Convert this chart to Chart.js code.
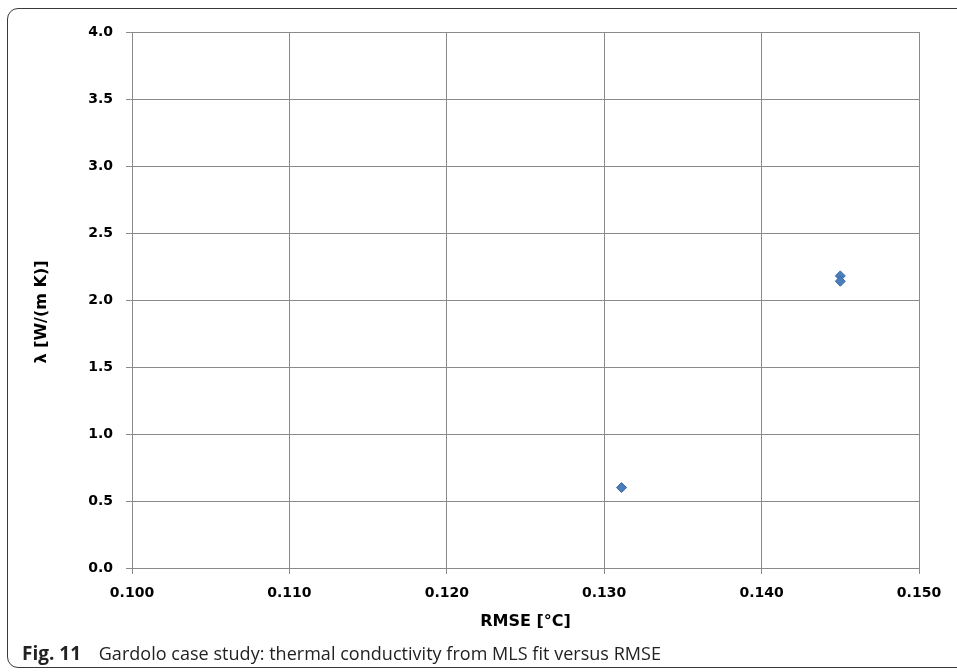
<!DOCTYPE html>
<html>
<head>
<meta charset="utf-8">
<script src="https://cdn.jsdelivr.net/npm/chart.js@4"></script>
<style>
  html, body { margin: 0; padding: 0; background: #fff; }
  body { width: 957px; height: 672px; position: relative; overflow: hidden; }
  #frame {
    position: absolute; left: 7px; top: 8px; width: 990px; height: 660px;
    border: 1.3px solid #3a3a3a; border-radius: 11px; box-sizing: border-box;
  }
  #wrap { position: absolute; left: 0; top: 0; width: 957px; height: 672px; }
  #caption {
    position: absolute; left: 22px; top: 644px; white-space: nowrap; line-height: 18px;
    font-family: "Open Sans", "Noto Sans", sans-serif; font-size: 18px; color: #222;
    letter-spacing: 0.03px;
  }
  #caption b { font-weight: 700; font-size: 19px; margin-right: 13px; letter-spacing: 0; }
</style>
</head>
<body>
<div id="frame"></div>
<div id="wrap"><canvas id="chart" width="957" height="672"></canvas></div>
<div id="caption"><b>Fig. 11</b> Gardolo case study: thermal conductivity from MLS fit versus RMSE</div>
<script>
// RMSE of each MLS fit and the thermal conductivity it returned
const rmse = [0.1311, 0.1450, 0.1450];
const lambda = [0.60, 2.18, 2.14];

// Axis ticks
const xTicks = [0.100, 0.110, 0.120, 0.130, 0.140, 0.150];
const xTickLabels = ['0.100', '0.110', '0.120', '0.130', '0.140', '0.150'];
const yTicks = [0.0, 0.5, 1.0, 1.5, 2.0, 2.5, 3.0, 3.5, 4.0];
const yTickLabels = ['0.0', '0.5', '1.0', '1.5', '2.0', '2.5', '3.0', '3.5', '4.0'];
const yTitle = 'λ [W/(m K)]';

const gridColor = '#8a8a8a';
const tickFont = { family: 'DejaVu Sans', weight: 'bold', size: 14 };
const titleFont = { family: 'DejaVu Sans', weight: 'bold', size: 16 };

// Vertical axis title, drawn a little below the plot's mid-height
const yTitlePlugin = {
  id: 'yTitle',
  afterDraw(chart) {
    const { ctx, chartArea } = chart;
    const y = chart.scales.y;
    ctx.save();
    ctx.font = `bold ${titleFont.size}px "${titleFont.family}"`;
    ctx.fillStyle = '#000';
    ctx.textAlign = 'center';
    ctx.textBaseline = 'middle';
    ctx.translate(y.left + 42, (chartArea.top + chartArea.bottom) / 2 + 12);
    ctx.rotate(-Math.PI / 2);
    ctx.fillText(yTitle, 0, 0);
    ctx.restore();
  }
};

new Chart(document.getElementById('chart'), {
  type: 'scatter',
  data: {
    datasets: [{
      data: rmse.map((x, i) => ({ x: x, y: lambda[i] })),
      pointStyle: 'rectRot',
      pointRadius: 5,
      pointHoverRadius: 5,
      backgroundColor: '#4a7ebb',
      borderColor: '#3a6aa6',
      borderWidth: 1
    }]
  },
  plugins: [yTitlePlugin],
  options: {
    responsive: false,
    animation: false,
    events: [],
    layout: { padding: { left: 0, top: 32, right: 38, bottom: 40 } },
    plugins: { legend: { display: false }, tooltip: { enabled: false } },
    scales: {
      x: {
        type: 'linear',
        min: xTicks[0],
        max: xTicks[xTicks.length - 1],
        afterBuildTicks: (s) => { s.ticks = xTicks.map(v => ({ value: v })); },
        afterFit: (s) => { s.height = 64; },
        ticks: {
          font: tickFont, color: '#000', padding: 11, maxRotation: 0,
          callback: (v, i) => xTickLabels[i]
        },
        grid: { color: gridColor, lineWidth: 1, tickLength: 6, drawTicks: true },
        border: { color: gridColor, width: 1 },
        title: { display: true, text: 'RMSE [°C]', font: titleFont, color: '#000', padding: { top: 0, bottom: 1 } }
      },
      y: {
        type: 'linear',
        min: yTicks[0],
        max: yTicks[yTicks.length - 1],
        afterBuildTicks: (s) => { s.ticks = yTicks.map(v => ({ value: v })); },
        afterFit: (s) => { s.width = 132; },
        ticks: {
          font: tickFont, color: '#000', padding: 13,
          callback: (v, i) => yTickLabels[i]
        },
        grid: { color: gridColor, lineWidth: 1, tickLength: 6, drawTicks: true },
        border: { color: gridColor, width: 1 }
      }
    }
  }
});
</script>
</body>
</html>
